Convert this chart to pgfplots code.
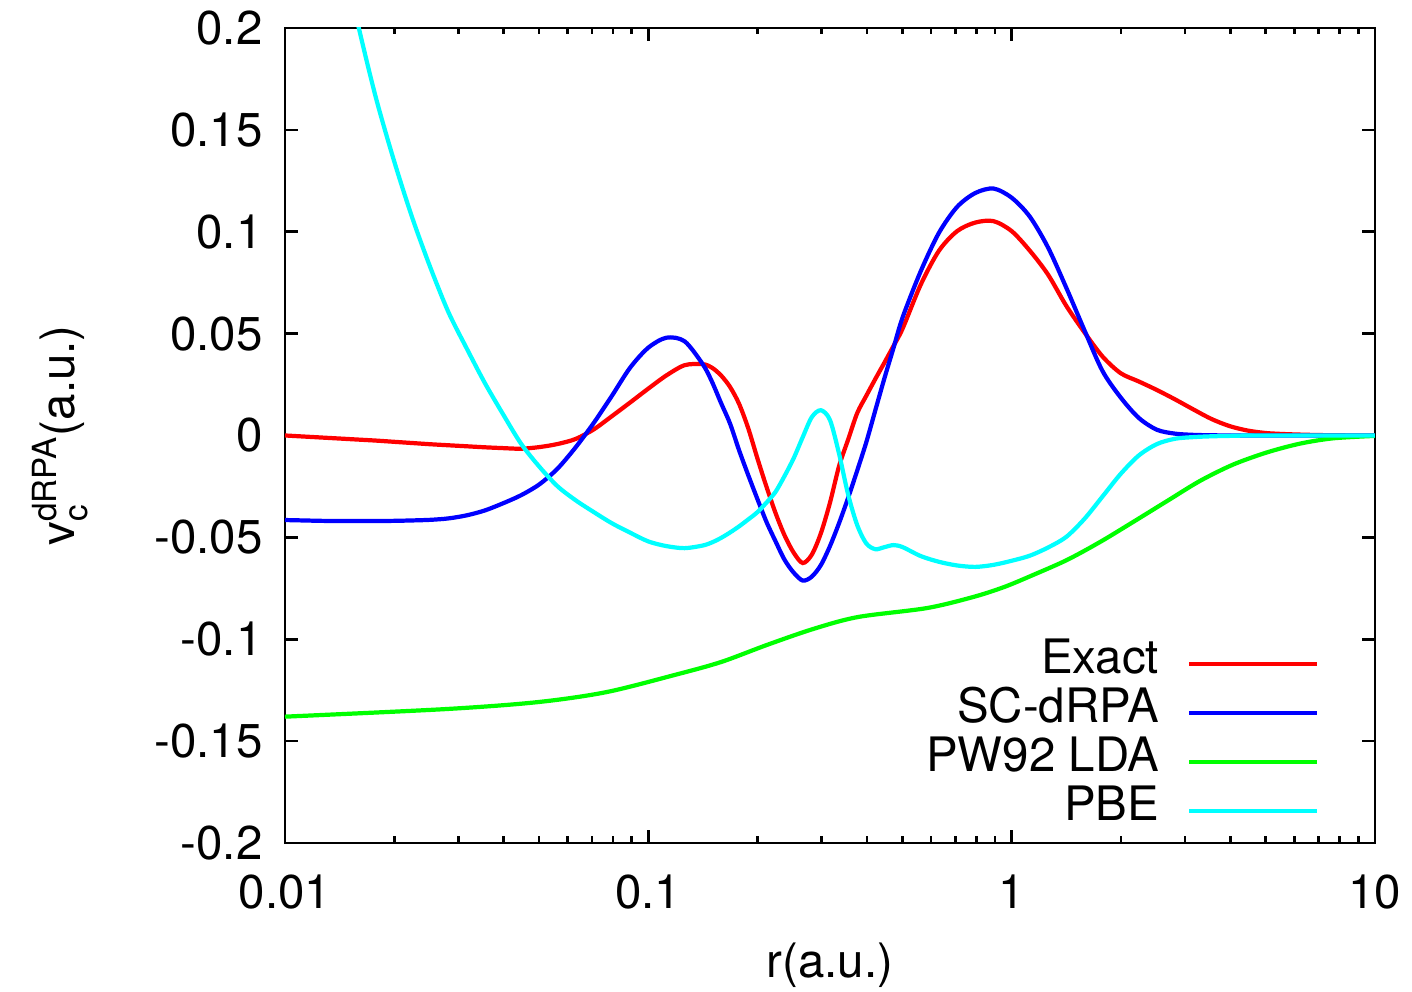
\documentclass[border=0pt]{standalone}
\usepackage{pgfplots}
\pgfplotsset{compat=1.18}
\usepackage{amsmath}
\usepackage{fontspec}
\setmainfont{TeX Gyre Heros}
\usetikzlibrary{calc}
\definecolor{cred}{RGB}{255,0,0}
\definecolor{cblue}{RGB}{0,0,255}
\definecolor{cgreen}{RGB}{0,255,0}
\definecolor{ccyan}{RGB}{0,255,255}

% columns: r, Exact, SC-dRPA, PBE
\pgfplotstableread{
r ex sc pbe
0.01 0.0 -0.0415 nan
0.01122 -0.0005 -0.0417 nan
0.01259 -0.0010 -0.0419 nan
0.01413 -0.0015 -0.0420 0.243
0.01585 -0.0020 -0.0420 0.2025
0.01778 -0.0025 -0.0420 0.166
0.01995 -0.0031 -0.0419 0.135
0.02239 -0.0037 -0.0417 0.107
0.02512 -0.0043 -0.0414 0.0825
0.02818 -0.0048 -0.0407 0.0605
0.03162 -0.0053 -0.0392 0.0428
0.03548 -0.0058 -0.0368 0.0258
0.03981 -0.0062 -0.0333 0.0105
0.04467 -0.0065 -0.0293 -0.0041
0.05012 -0.0057 -0.0240 -0.0153
0.05623 -0.0042 -0.0163 -0.0249
0.0631 -0.0017 -0.0058 -0.0318
0.07079 0.0030 0.0062 -0.0376
0.07943 0.0095 0.0195 -0.0431
0.08913 0.0162 0.0333 -0.0477
0.1 0.0230 0.0431 -0.0520
0.1122 0.0295 0.0480 -0.0543
0.1259 0.0345 0.0462 -0.0553
0.1413 0.0350 0.0349 -0.0540
0.1496 0.0333 0.0265 -0.0525
0.1585 0.0295 0.0160 -0.0503
0.1679 0.0238 0.0058 -0.0476
0.1778 0.0155 -0.0073 -0.0446
0.1884 0.0035 -0.0195 -0.0412
0.1995 -0.0110 -0.0310 -0.0377
0.2113 -0.0250 -0.0423 -0.0330
0.2239 -0.0380 -0.0519 -0.0277
0.2371 -0.0490 -0.0610 -0.0199
0.2512 -0.0575 -0.0673 -0.0112
0.2661 -0.0626 -0.0712 -0.0008
0.2818 -0.0585 -0.0693 0.0090
0.2985 -0.0480 -0.0636 0.0124
0.3162 -0.0330 -0.0543 0.0076
0.3350 -0.0150 -0.0430 -0.0090
0.3548 -0.0020 -0.0306 -0.0290
0.3758 0.0110 -0.0172 -0.0440
0.3981 0.0195 -0.0033 -0.0530
0.4217 0.0278 0.0125 -0.0558
0.4467 0.0358 0.0282 -0.0548
0.4732 0.0440 0.0431 -0.0538
0.5012 0.0525 0.0580 -0.0548
0.5623 0.0741 0.0807 -0.0592
0.631 0.0907 0.0995 -0.0620
0.7079 0.1003 0.1122 -0.0638
0.7943 0.1045 0.1190 -0.0645
0.8913 0.1052 0.1212 -0.0635
1 0.1003 0.1167 -0.0615
1.122 0.0907 0.1074 -0.0590
1.259 0.0790 0.0923 -0.0550
1.413 0.0637 0.0726 -0.0498
1.585 0.0507 0.0518 -0.0410
1.778 0.0388 0.0317 -0.0300
1.995 0.0306 0.0187 -0.0189
2.239 0.0265 0.0086 -0.0098
2.512 0.0223 0.0028 -0.0042
2.818 0.0177 0.0009 -0.0016
3.162 0.0128 0.0003 -0.0008
3.548 0.0081 0.0001 -0.0004
3.981 0.0046 0.0 -0.0002
4.467 0.0024 0.0 0.0
5.012 0.0012 0.0 0.0
5.623 0.0007 0.0 0.0
6.31 0.0004 0.0 0.0
7.079 0.0002 0.0 0.0
7.943 0.0001 0.0 0.0
8.913 0.0 0.0 0.0
10 0.0 0.0 0.0
}\curves

\pgfplotstableread{
r v
0.01 -0.1380
0.02756 -0.1343
0.04939 -0.1309
0.07647 -0.1260
0.1184 -0.1175
0.1585 -0.1112
0.2121 -0.1028
0.2840 -0.0950
0.3776 -0.0891
0.5848 -0.0847
0.7830 -0.0793
0.9527 -0.0744
1.1447 -0.0685
1.4202 -0.0611
1.7505 -0.0523
2.1575 -0.0425
2.6766 -0.0322
3.2990 -0.0223
4.0671 -0.0143
5.0443 -0.0083
6.2193 -0.0040
7.6650 -0.0014
10 -0.0002
}\lda

\begin{document}
\begin{tikzpicture}
\begin{axis}[
  scale only axis,
  width=109mm, height=81.5mm,
  xmode=log,
  xmin=0.01, xmax=10,
  ymin=-0.2, ymax=0.2,
  xtick={0.01,0.1,1,10},
  xticklabels={0.01,0.1,1,10},
  ytick={-0.2,-0.15,-0.1,-0.05,0,0.05,0.1,0.15,0.2},
  /pgf/number format/fixed,
  /pgf/number format/precision=2,
  /pgf/number format/assume math mode=true,
  font=\fontsize{13.5pt}{16pt}\selectfont,
  tick label style={font=\fontsize{13.5pt}{16pt}\selectfont},
  xticklabel style={yshift=-1.9mm},
  yticklabel style={xshift=-1.0mm},
  axis line style={line width=0.75pt},
  every tick/.style={black, line width=0.75pt},
  major tick length=1.3mm,
  minor tick length=0.65mm,
  tick align=inside,
  clip=true,
  unbounded coords=jump,
  xlabel={r(a.u.)},
  ylabel={$\text{v}_{\text{c}}^{\text{dRPA}}$(a.u.)},
  xlabel style={at={(axis description cs:0.5,0)}, anchor=center, yshift=-12.2mm, font=\fontsize{13.5pt}{16pt}\selectfont},
  ylabel style={at={(axis description cs:-0.2064,0.5)}, anchor=center, font=\fontsize{13.5pt}{16pt}\selectfont},
  legend plot pos=right,
  legend cell align=right,
  legend image code/.code={\draw[#1] (0mm,0mm) -- (12.8mm,0mm);},
  legend style={at={(rel axis cs:0.9496,0.0086)}, anchor=south east, draw=none, fill=none,
    inner sep=0pt, row sep=0pt, column sep=2.8mm,
    font=\fontsize{13.5pt}{16pt}\selectfont,
    nodes={inner sep=0pt, text height=3.4mm, text depth=1.5mm}},
  every axis plot/.append style={line width=1.2pt, smooth, tension=0.5},
]
\addplot[cred] table[x=r,y=ex] {\curves};
\addlegendentry{Exact}
\addplot[cblue] table[x=r,y=sc] {\curves};
\addlegendentry{SC-dRPA}
\addplot[cgreen] table[x=r,y=v] {\lda};
\addlegendentry{PW92 LDA}
\addplot[ccyan] table[x=r,y=pbe] {\curves};
\addlegendentry{PBE}
\end{axis}
\pgfresetboundingbox
\useasboundingbox ($(current axis.south west)+(-28.5mm,-14.9mm)$) rectangle ($(current axis.north east)+(3.7mm,2.8mm)$);
\end{tikzpicture}
\end{document}
